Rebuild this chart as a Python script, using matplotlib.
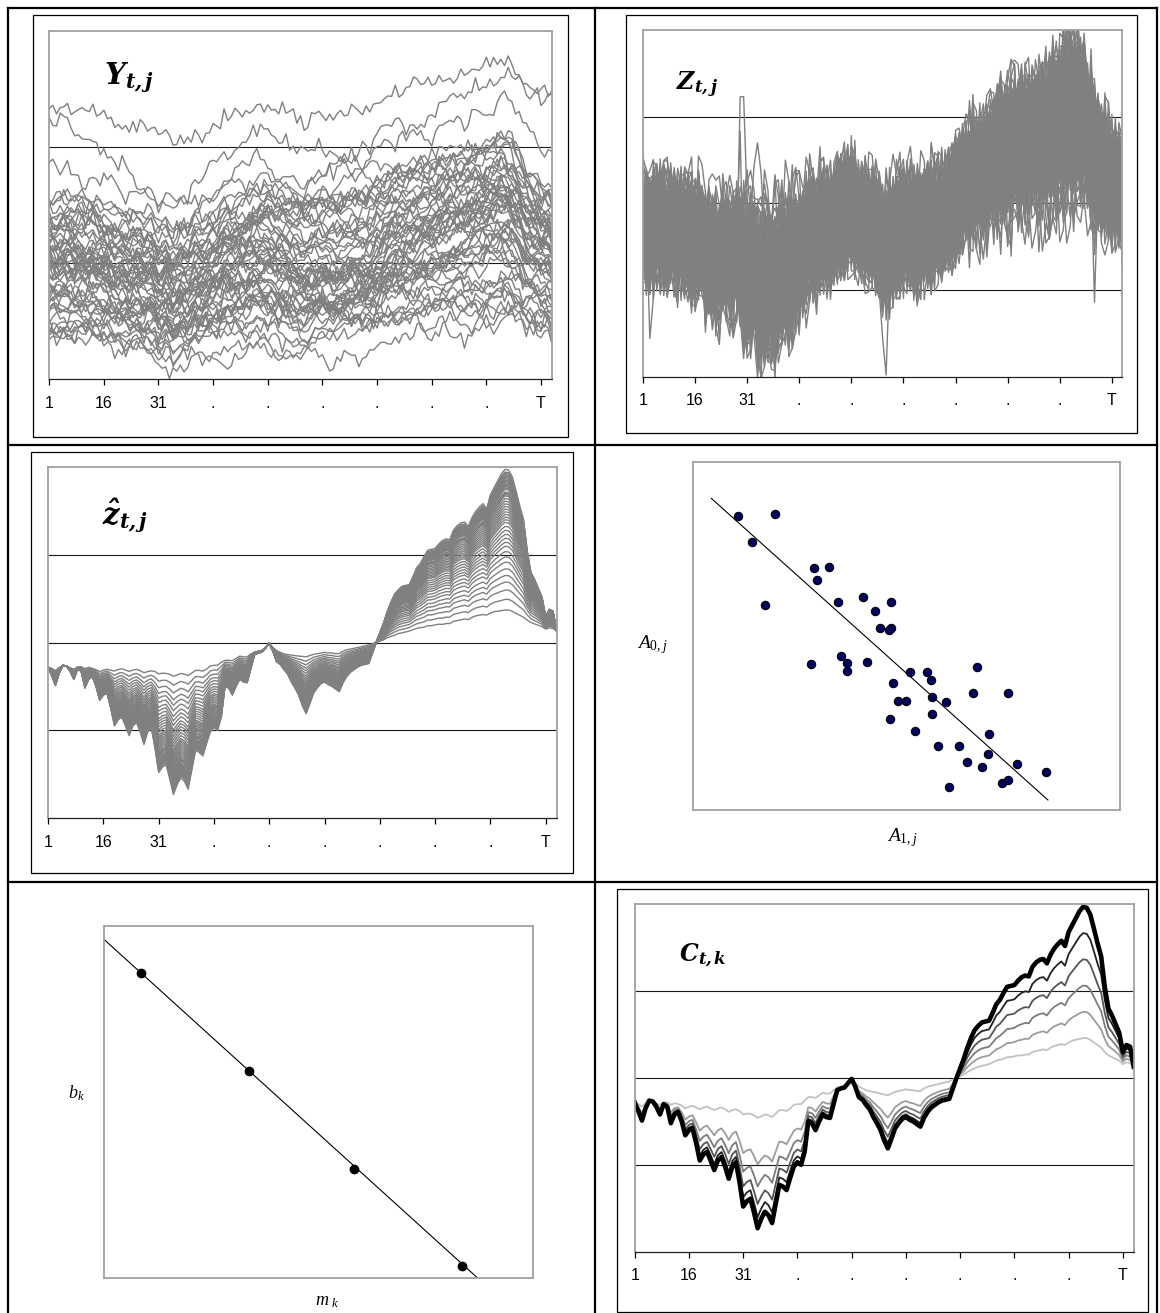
import numpy as np
import matplotlib
matplotlib.use("Agg")
import matplotlib.pyplot as plt
from matplotlib.lines import Line2D
from matplotlib.patches import Rectangle

plt.rcParams['font.family'] = ['Liberation Sans', 'DejaVu Sans']
plt.rcParams['mathtext.fontset'] = 'custom'
plt.rcParams['mathtext.bf'] = 'DejaVu Serif:italic:bold'
plt.rcParams['mathtext.it'] = 'Liberation Serif:italic'
plt.rcParams['mathtext.rm'] = 'Liberation Serif'

# ---------------- data ----------------
N = 139
t = np.arange(1, N + 1)
tick_pos = [1, 16, 31, 46, 61, 76, 91, 106, 121, 136]
tick_lab = ['1', '16', '31', '.', '.', '.', '.', '.', '.', 'T']

# common factor, strongest member (thick black curve of C_t,k)
c_thick = [
    -0.28, -0.38, -0.49, -0.35, -0.26, -0.27, -0.33, -0.42, -0.30, -0.33,
    -0.52, -0.42, -0.39, -0.50, -0.66, -0.60, -0.58, -0.75, -0.95, -0.88,
    -0.85, -0.95, -1.06, -0.95, -0.91, -1.02, -1.16, -1.02, -0.97, -1.20,
    -1.48, -1.42, -1.39, -1.55, -1.73, -1.62, -1.54, -1.58, -1.67, -1.45,
    -1.23, -1.25, -1.29, -1.15, -1.02, -0.97, -1.00, -0.85, -0.50, -0.52,
    -0.60, -0.50, -0.42, -0.45, -0.46, -0.30, -0.14, -0.12, -0.11, -0.06,
    -0.01, -0.10, -0.22, -0.25, -0.31, -0.36, -0.45, -0.52, -0.60, -0.72,
    -0.81, -0.70, -0.58, -0.52, -0.47, -0.45, -0.48, -0.50, -0.53, -0.56,
    -0.46, -0.39, -0.34, -0.31, -0.28, -0.26, -0.25, -0.24, -0.12, 0.00,
    0.11, 0.22, 0.35, 0.46, 0.55, 0.60, 0.64, 0.65, 0.66, 0.75,
    0.85, 0.90, 0.98, 1.05, 1.06, 1.07, 1.12, 1.16, 1.18, 1.17,
    1.28, 1.33, 1.36, 1.37, 1.32, 1.42, 1.49, 1.54, 1.58, 1.52,
    1.68, 1.76, 1.84, 1.92, 1.97, 1.96, 1.88, 1.72, 1.55, 1.40,
    1.05, 0.80, 0.72, 0.62, 0.52, 0.30, 0.38, 0.36, 0.13]

# weakest member (lightest grey curve of C_t,k)
c_light = [
    -0.28, -0.30, -0.33, -0.29, -0.26, -0.27, -0.29, -0.31, -0.28, -0.28, -0.31, -0.29,
    -0.30, -0.32, -0.35, -0.33, -0.32, -0.34, -0.36, -0.34, -0.33, -0.35, -0.37, -0.35,
    -0.34, -0.36, -0.39, -0.37, -0.36, -0.38, -0.42, -0.41, -0.41, -0.43, -0.46, -0.44,
    -0.42, -0.43, -0.45, -0.41, -0.37, -0.37, -0.38, -0.35, -0.31, -0.30, -0.30, -0.26,
    -0.22, -0.22, -0.23, -0.20, -0.17, -0.18, -0.18, -0.14, -0.11, -0.10, -0.09, -0.06,
    -0.01, -0.06, -0.10, -0.12, -0.14, -0.15, -0.16, -0.17, -0.18, -0.19, -0.20, -0.18,
    -0.16, -0.15, -0.14, -0.13, -0.14, -0.14, -0.15, -0.15, -0.12, -0.10, -0.09, -0.08,
    -0.07, -0.06, -0.05, -0.04, -0.02, 0.00, 0.02, 0.04, 0.07, 0.09, 0.11, 0.13,
    0.14, 0.15, 0.16, 0.18, 0.20, 0.21, 0.22, 0.24, 0.24, 0.25, 0.26, 0.26,
    0.27, 0.27, 0.30, 0.31, 0.32, 0.33, 0.32, 0.35, 0.37, 0.38, 0.39, 0.38,
    0.41, 0.43, 0.44, 0.45, 0.46, 0.46, 0.44, 0.41, 0.38, 0.35, 0.30, 0.26,
    0.24, 0.22, 0.20, 0.16, 0.18, 0.17, 0.13]

# C_t,k family: share of the gap light->thick, above and below the light curve
c_w_up = [0.0, 0.2, 0.4, 0.6, 0.8, 1.0]
c_w_down = [0.0, 0.42, 0.62, 0.78, 0.9, 1.0]
c_col = ['#c2c2c2', '#9c9c9c', '#7c7c7c', '#555555', '#222222', '#000000']
c_lw = [1.3, 1.3, 1.3, 1.3, 1.3, 3.3]

# fitted z-hat loadings (one per series)
zhat_w = [-0.06, 0.02, 0.09, 0.15, 0.20, 0.25, 0.30, 0.34, 0.38, 0.42, 0.45,
          0.48, 0.51, 0.54, 0.57, 0.60, 0.62, 0.64, 0.66, 0.68, 0.70, 0.72,
          0.74, 0.76, 0.78, 0.80, 0.81, 0.82, 0.83, 0.85, 0.86, 0.87, 0.88,
          0.89, 0.90, 0.91, 0.92, 0.93, 0.94, 0.95, 0.96, 0.97, 0.98, 1.00]
# a few raw Z series that barely follow the factor
z_extra_w = [-0.35, -0.2, 0.0, 0.1]

# residual shocks, read as typical jumps of the raw series
shocks = [
    0.3, -0.8, 0.5, 0.9, -0.2, -0.6, 0.7, -0.1, 0.4, -0.9, 0.2, 0.8, -0.5, -0.3, 0.6, -0.7, 0.1, 0.9, -0.4, 0.0,
    -0.8, 0.5, 0.3, -0.6, 0.8, -0.2, -0.9, 0.4, 0.6, -0.3, 0.2, -0.7, 0.9, -0.1, -0.5, 0.7, 0.3, -0.8, 0.1, 0.5,
    -0.4, -0.6, 0.8, 0.2, -0.9, 0.6, -0.2, 0.4, -0.7, 0.0, 0.9, -0.3, 0.5, -0.8, 0.2, 0.7, -0.5, -0.1, 0.6, -0.9,
    0.3, 0.8, -0.4, -0.2, 0.5, -0.7, 0.1, 0.9, -0.6, 0.3, -0.3, 0.6, -0.8, 0.4, 0.2, -0.5, 0.7, -0.9, 0.0, 0.8,
    -0.4, 0.3, -0.6, 0.5, 0.1, -0.8, 0.9, -0.2, -0.5, 0.4, 0.7, -0.7, 0.2, -0.3, 0.6, -0.9, 0.5, 0.1, -0.4, 0.8,
    -0.6, 0.0, 0.7, -0.8, 0.3, 0.4, -0.5, 0.9, -0.1, -0.7, 0.2, 0.6, -0.3, -0.9, 0.8, 0.1, -0.4, 0.5, -0.6, 0.3,
    0.7, -0.2, -0.8, 0.4, 0.9, -0.5, 0.0, 0.6, -0.7, 0.2, -0.3, 0.8, -0.9, 0.5, 0.1, -0.6, 0.4, -0.2, 0.7]

# raw Z outliers: series, time, value
z_spike_line = [5, 5, 12, 30, 30, 41, 60]
z_spike_t = [29, 30, 29, 71, 70, 131, 3]
z_spike_val = [1.23, 1.23, 0.83, -1.98, -1.55, -1.14, -1.56]

# Y series: level and loading on the common factor
y_level = [2.42, 2.38, 1.92,
           1.62, 1.58, 1.55, 1.52, 1.50, 1.47, 1.45, 1.43, 1.41, 1.39,
           1.37, 1.35, 1.33, 1.31, 1.30, 1.28, 1.26, 1.25, 1.23, 1.21,
           1.20, 1.18, 1.16, 1.15, 1.13, 1.11, 1.10, 1.08, 1.06, 1.04,
           1.02, 1.00, 0.98, 0.96, 0.94, 0.92, 0.90, 0.88, 0.85, 0.82,
           0.80, 0.77, 0.74, 0.72, 0.69, 0.66, 0.63, 0.60, 0.57, 0.54,
           0.50, 0.47, 0.44, 0.40, 0.36, 0.32]
y_load = [0.20, 0.22, 0.20,
          0.22, 0.20, 0.24, 0.18, 0.22, 0.26, 0.20, 0.16, 0.24, 0.22,
          0.18, 0.26, 0.20, 0.24, 0.14, 0.22, 0.20, 0.26, 0.18, 0.22,
          0.16, 0.24, 0.20, 0.18, 0.22, 0.14, 0.24, 0.20, 0.16, 0.22,
          0.18, 0.20, 0.14, 0.22, 0.18, 0.16, 0.20, 0.12, 0.18, 0.16,
          0.20, 0.14, 0.12, 0.18, 0.16, 0.10, 0.14, 0.12, 0.16, 0.10,
          0.12, 0.14, 0.10, 0.12, 0.08, 0.10]

# scatter of A0,j against A1,j
a1 = [12.3, 22.2, 16.1, 32.7, 36.7, 33.6, 19.6, 39.3, 46.1, 53.7, 49.3, 50.7,
      53.5, 53.0, 31.9, 40.0, 41.7, 41.7, 47.2, 58.7, 63.4, 64.3, 54.1, 76.7,
      55.5, 57.5, 64.7, 68.5, 75.8, 85.2, 53.2, 64.7, 60.0, 80.0, 66.4, 72.0,
      79.7, 74.1, 78.3, 87.5, 95.5, 69.3, 83.5, 85.3]
a0 = [88.2, 88.8, 80.3, 72.7, 73.0, 69.0, 61.5, 62.4, 63.8, 62.4, 59.7, 54.7,
      54.5, 54.0, 43.9, 46.2, 44.0, 41.7, 44.5, 41.3, 41.3, 38.9, 38.2, 43.0,
      32.7, 32.7, 33.9, 32.3, 35.0, 35.0, 27.4, 28.7, 23.7, 22.9, 19.3, 19.3,
      16.7, 14.4, 12.8, 13.8, 11.3, 7.0, 8.0, 9.0]
a_fit_x = [5.0, 96.0]
a_fit_y = [93.5, 3.0]

# b_k against m_k
m_k = [10.2, 39.3, 67.8, 96.8]
b_k = [91.5, 62.2, 32.9, 3.8]
mb_fit_x = [0.0, 101.2]
mb_fit_y = [101.8, 0.0]

# ---------------- figure ----------------
W, H = 1160, 1313
fig = plt.figure(figsize=(W / 100, H / 100), dpi=100)


def rect(x0, y0, x1, y1):
    return [x0 / W, 1 - y1 / H, (x1 - x0) / W, (y1 - y0) / H]


def hline(x0, x1, y, lw):
    fig.add_artist(Line2D([x0 / W, x1 / W], [1 - y / H, 1 - y / H], color='black', lw=lw))


def vline(x, y0, y1, lw):
    fig.add_artist(Line2D([x / W, x / W], [1 - y0 / H, 1 - y1 / H], color='black', lw=lw))


def box(x0, y0, x1, y1):
    r = rect(x0, y0, x1, y1)
    fig.add_artist(Rectangle((r[0], r[1]), r[2], r[3], fill=False, ec='black', lw=0.9))


def time_axis(ax, ylim, grid):
    ax.set_xlim(1, N)
    ax.set_ylim(*ylim)
    for g in grid:
        ax.axhline(g, color='#1a1a1a', lw=0.8, zorder=0.5)
    ax.set_xticks(tick_pos)
    ax.set_xticklabels(tick_lab)
    ax.set_yticks([])
    ax.tick_params(axis='x', direction='out', length=4, width=0.9, pad=8, labelsize=11.5)
    for s in ['top', 'left', 'right']:
        ax.spines[s].set_color('#a0a0a0')
        ax.spines[s].set_linewidth(1.3)
    ax.spines['bottom'].set_color('#202020')
    ax.spines['bottom'].set_linewidth(0.9)


def plain_axis(ax):
    ax.set_xticks([])
    ax.set_yticks([])
    for s in ax.spines.values():
        s.set_color('#a0a0a0')
        s.set_linewidth(1.3)


# table grid
hline(8, 1157, 8, 1.6)
hline(8, 1157, 445, 1.6)
hline(8, 1157, 882, 1.6)
vline(8, 8, 1313, 1.6)
vline(1157, 8, 1313, 1.6)
vline(595, 8, 1313, 1.6)

# chart area frames
box(32.6, 15, 567.8, 436.7)
box(625.5, 15, 1136.7, 433.3)
box(30.7, 452.3, 572.6, 873.3)
box(617, 889.3, 1147.8, 1311.5)

S = np.array(shocks)
Sc = S - S.mean()
L = len(S)
X = np.array(c_thick)
Lc = np.array(c_light)


def perm(j):
    a = 1 + (j * 23) % (L - 2)
    b = (j * 41 + 7) % L
    return (a * np.arange(N) + b) % L


# --- Y_t,j ---
ax1 = fig.add_axes(rect(49.2, 30.7, 551.9, 379.3))
time_axis(ax1, (0, 3), [1, 2])
for j, (lev, load) in enumerate(zip(y_level, y_load)):
    walk = 0.062 * np.cumsum(Sc[perm(j)])
    jag = 0.05 * Sc[perm(j + 300)]
    ax1.plot(t, lev + load * X + walk + jag, color='#808080', lw=1.0)
ax1.text(0.11, 0.915, r'$\mathbf{Y_{t,j}}$', transform=ax1.transAxes,
         fontsize=21, va='top', ha='left')

# --- Z_t,j ---
ax2 = fig.add_axes(rect(642.9, 30, 1122.3, 376.7))
time_axis(ax2, (-2, 2), [-1, 0, 1])
z_w = zhat_w + zhat_w + z_extra_w
for j, w in enumerate(z_w):
    z = 0.8 * (Lc + w * (X - Lc)) + 0.3 * Sc[(j * 29 + 5) % L] + 0.6 * Sc[perm(j + 100)]
    for ln, tt, v in zip(z_spike_line, z_spike_t, z_spike_val):
        if ln == j:
            z[tt - 1] = v
    ax2.plot(t, z, color='#808080', lw=1.0)
ax2.text(0.07, 0.885, r'$\mathbf{Z_{t,j}}$', transform=ax2.transAxes,
         fontsize=17, va='top', ha='left')

# --- z-hat_t,j ---
ax3 = fig.add_axes(rect(48.1, 466.7, 556.7, 818.3))
time_axis(ax3, (-2, 2), [-1, 0, 1])
for w in zhat_w:
    ax3.plot(t, Lc + w * (X - Lc), color='#808080', lw=1.0)
ax3.text(0.105, 0.915, r'$\mathbf{\hat{z}_{t,j}}$', transform=ax3.transAxes,
         fontsize=21, va='top', ha='left')

# --- A0,j vs A1,j ---
ax4 = fig.add_axes(rect(692.8, 461.7, 1120.1, 810))
plain_axis(ax4)
ax4.set_xlim(0, 115.5)
ax4.set_ylim(0, 104.5)
ax4.plot(a_fit_x, a_fit_y, color='black', lw=0.8)
ax4.plot(a1, a0, 'o', ms=6, mfc='#000060', mec='black', mew=0.8)
fig.text(652 / W, 1 - 645 / H, r'$A_{0,j}$', fontsize=14, ha='center', va='center')
fig.text(902 / W, 1 - 838 / H, r'$A_{1,j}$', fontsize=14, ha='center', va='center')

# --- b_k vs m_k ---
ax5 = fig.add_axes(rect(103.6, 925.7, 532.7, 1278.3))
plain_axis(ax5)
ax5.set_xlim(0, 116)
ax5.set_ylim(0, 105.8)
ax5.plot(mb_fit_x, mb_fit_y, color='black', lw=0.8)
ax5.plot(m_k, b_k, 'o', ms=6, mfc='black', mec='black')
fig.text(76 / W, 1 - 1093 / H, r'$b_k$', fontsize=13, ha='center', va='center')
fig.text(327 / W, 1 - 1301 / H, r'$m_{\ k}$', fontsize=13, ha='center', va='center')

# --- C_t,k ---
ax6 = fig.add_axes(rect(634.7, 904.3, 1133.7, 1251.7))
time_axis(ax6, (-2, 2), [-1, 0, 1])
gap = X - Lc
for wu, wd, col, lw in zip(c_w_up, c_w_down, c_col, c_lw):
    ax6.plot(t, Lc + np.where(gap > 0, wu, wd) * gap, color=col, lw=lw)
ax6.text(0.088, 0.895, r'$\mathbf{C_{t,k}}$', transform=ax6.transAxes,
         fontsize=17, va='top', ha='left')

fig.savefig('out.png', dpi=100)
